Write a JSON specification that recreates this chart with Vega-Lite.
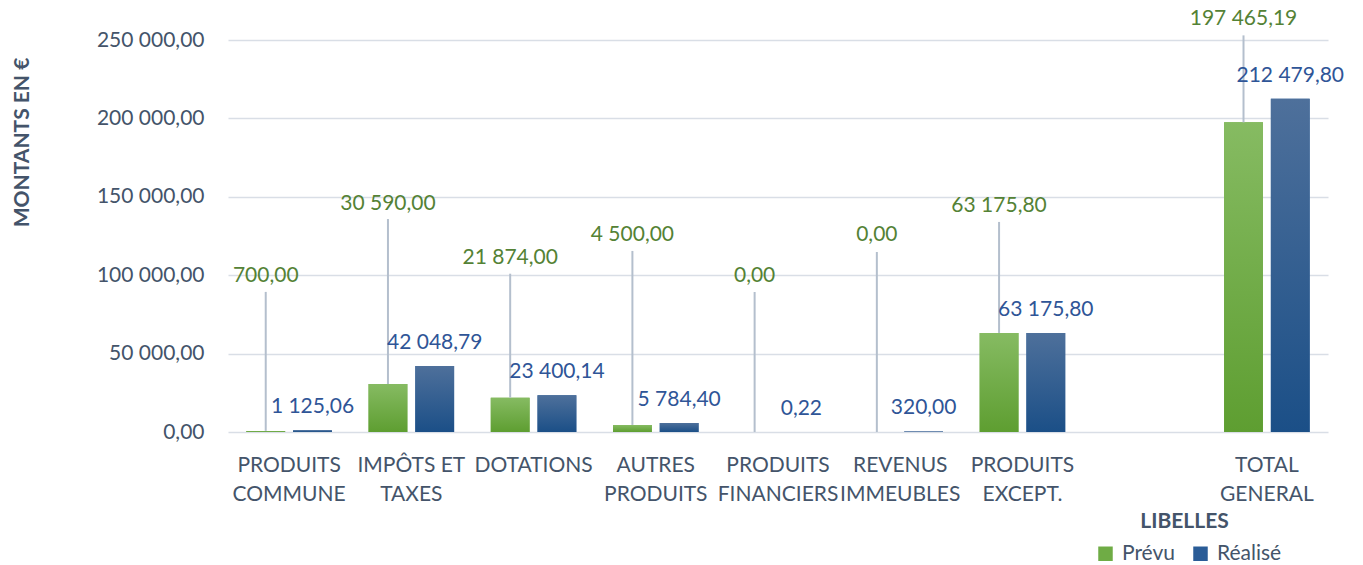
{
  "$schema": "https://vega.github.io/schema/vega-lite/v6.json",
  "width": 1100,
  "height": 392,
  "autosize": {"type": "none"},
  "padding": {"left": 228, "top": 40, "right": 35, "bottom": 133},
  "background": "white",
  "config": {
    "locale": {"number": {"decimal": ",", "thousands": " ", "grouping": [3], "currency": ["", " €"]}},
    "font": "Lato",
    "view": {"stroke": null}
  },
  "data": {
    "values": [
      {"cat": "PRODUITS COMMUNE", "series": "Prévu", "value": 700.00},
      {"cat": "PRODUITS COMMUNE", "series": "Réalisé", "value": 1125.06},
      {"cat": "IMPÔTS ET TAXES", "series": "Prévu", "value": 30590.00},
      {"cat": "IMPÔTS ET TAXES", "series": "Réalisé", "value": 42048.79},
      {"cat": "DOTATIONS", "series": "Prévu", "value": 21874.00},
      {"cat": "DOTATIONS", "series": "Réalisé", "value": 23400.14},
      {"cat": "AUTRES PRODUITS", "series": "Prévu", "value": 4500.00},
      {"cat": "AUTRES PRODUITS", "series": "Réalisé", "value": 5784.40},
      {"cat": "PRODUITS FINANCIERS", "series": "Prévu", "value": 0.00},
      {"cat": "PRODUITS FINANCIERS", "series": "Réalisé", "value": 0.22},
      {"cat": "REVENUS IMMEUBLES", "series": "Prévu", "value": 0.00},
      {"cat": "REVENUS IMMEUBLES", "series": "Réalisé", "value": 320.00},
      {"cat": "PRODUITS EXCEPT.", "series": "Prévu", "value": 63175.80},
      {"cat": "PRODUITS EXCEPT.", "series": "Réalisé", "value": 63175.80},
      {"cat": "TOTAL GENERAL", "series": "Prévu", "value": 197465.19},
      {"cat": "TOTAL GENERAL", "series": "Réalisé", "value": 212479.80}
    ]
  },
  "encoding": {
    "x": {
      "field": "cat",
      "type": "nominal",
      "sort": null,
      "scale": {
        "domain": ["PRODUITS COMMUNE", "IMPÔTS ET TAXES", "DOTATIONS", "AUTRES PRODUITS", "PRODUITS FINANCIERS", "REVENUS IMMEUBLES", "PRODUITS EXCEPT.", " ", "TOTAL GENERAL"],
        "paddingInner": 0.3,
        "paddingOuter": 0.15
      },
      "axis": {
        "orient": "bottom",
        "domain": false,
        "ticks": false,
        "grid": false,
        "labelAngle": 0,
        "labelOverlap": false,
        "labelBound": false,
        "labelLimit": 0,
        "labelFontSize": 21,
        "labelColor": "#44546A",
        "labelPadding": 22,
        "labelBaseline": "top",
        "labelLineHeight": 29,
        "labelExpr": "datum.label == 'IMPÔTS ET TAXES' ? ['IMPÔTS ET', 'TAXES'] : split(datum.label, ' ')",
        "title": "LIBELLES",
        "titleFontSize": 21,
        "titleFontWeight": "bold",
        "titleColor": "#44546A",
        "titleX": 956,
        "titleY": 95,
        "titleAlign": "center",
        "titleBaseline": "alphabetic"
      }
    },
    "xOffset": {
      "field": "series",
      "type": "nominal",
      "scale": {"domain": ["Prévu", "Réalisé"], "paddingInner": 0.17, "paddingOuter": 0}
    },
    "y": {
      "field": "value",
      "type": "quantitative",
      "scale": {"domain": [0, 250000], "nice": false},
      "axis": {
        "values": [0, 50000, 100000, 150000, 200000, 250000],
        "format": ",.2f",
        "domain": false,
        "ticks": false,
        "grid": true,
        "gridColor": "#D9DEE6",
        "gridWidth": 1.5,
        "labelFontSize": 21,
        "labelColor": "#44546A",
        "labelPadding": 24,
        "title": "MONTANTS EN €",
        "titleFontSize": 21,
        "titleFontWeight": "bold",
        "titleColor": "#44546A",
        "titleX": -200,
        "titleY": 102,
        "titleAlign": "center",
        "titleBaseline": "alphabetic",
        "titleAngle": -90
      }
    }
  },
  "layer": [
    {
      "mark": {"type": "bar"},
      "encoding": {
        "color": {
          "field": "series",
          "type": "nominal",
          "scale": {"domain": ["Prévu", "Réalisé"], "range": ["#6FAC45", "#2A5C97"]},
          "legend": {
            "orient": "none",
            "legendX": 867,
            "legendY": 503,
            "direction": "horizontal",
            "title": null,
            "symbolType": "square",
            "symbolSize": 210,
            "symbolStrokeWidth": 0,
            "labelFontSize": 21,
            "labelColor": "#44546A",
            "labelOffset": 6,
            "columnPadding": 14
          }
        }
      }
    },
    {
      "transform": [{"filter": "datum.series == 'Prévu'"}],
      "mark": {
        "type": "bar",
        "color": {
          "gradient": "linear", "x1": 0, "y1": 0, "x2": 0, "y2": 1,
          "stops": [{"offset": 0, "color": "#86BB62"}, {"offset": 1, "color": "#5E9E31"}]
        }
      }
    },
    {
      "transform": [{"filter": "datum.series == 'Réalisé'"}],
      "mark": {
        "type": "bar",
        "color": {
          "gradient": "linear", "x1": 0, "y1": 0, "x2": 0, "y2": 1,
          "stops": [{"offset": 0, "color": "#4E709B"}, {"offset": 1, "color": "#1B4F87"}]
        }
      }
    },
    {
      "transform": [{"filter": "datum.series == 'Prévu'"}],
      "mark": {
        "type": "rule",
        "color": "#B4BFCD",
        "strokeWidth": 2,
        "y2Offset": {"expr": "datum.cat == 'PRODUITS COMMUNE' ? -139 : datum.cat == 'IMPÔTS ET TAXES' ? -165 : datum.cat == 'DOTATIONS' ? -124 : datum.cat == 'AUTRES PRODUITS' ? -174 : datum.cat == 'PRODUITS FINANCIERS' ? -140 : datum.cat == 'REVENUS IMMEUBLES' ? -180 : datum.cat == 'PRODUITS EXCEPT.' ? -111 : -87"}
      },
      "encoding": {"y2": {"field": "value"}}
    },
    {
      "transform": [{"filter": "datum.series == 'Prévu'"}],
      "mark": {
        "type": "text",
        "baseline": "alphabetic",
        "align": "center",
        "fontSize": 21,
        "color": "#548235",
        "dy": {"expr": "datum.cat == 'PRODUITS COMMUNE' ? -149 : datum.cat == 'IMPÔTS ET TAXES' ? -174 : datum.cat == 'DOTATIONS' ? -134 : datum.cat == 'AUTRES PRODUITS' ? -184 : datum.cat == 'PRODUITS FINANCIERS' ? -150 : datum.cat == 'REVENUS IMMEUBLES' ? -191 : datum.cat == 'PRODUITS EXCEPT.' ? -121 : -97"}
      },
      "encoding": {"text": {"field": "value", "type": "quantitative", "format": ",.2f"}}
    },
    {
      "transform": [{"filter": "datum.series == 'Réalisé'"}],
      "mark": {
        "type": "text",
        "baseline": "alphabetic",
        "align": "center",
        "fontSize": 21,
        "color": "#2F5597",
        "dy": -17
      },
      "encoding": {"text": {"field": "value", "type": "quantitative", "format": ",.2f"}}
    }
  ]
}
